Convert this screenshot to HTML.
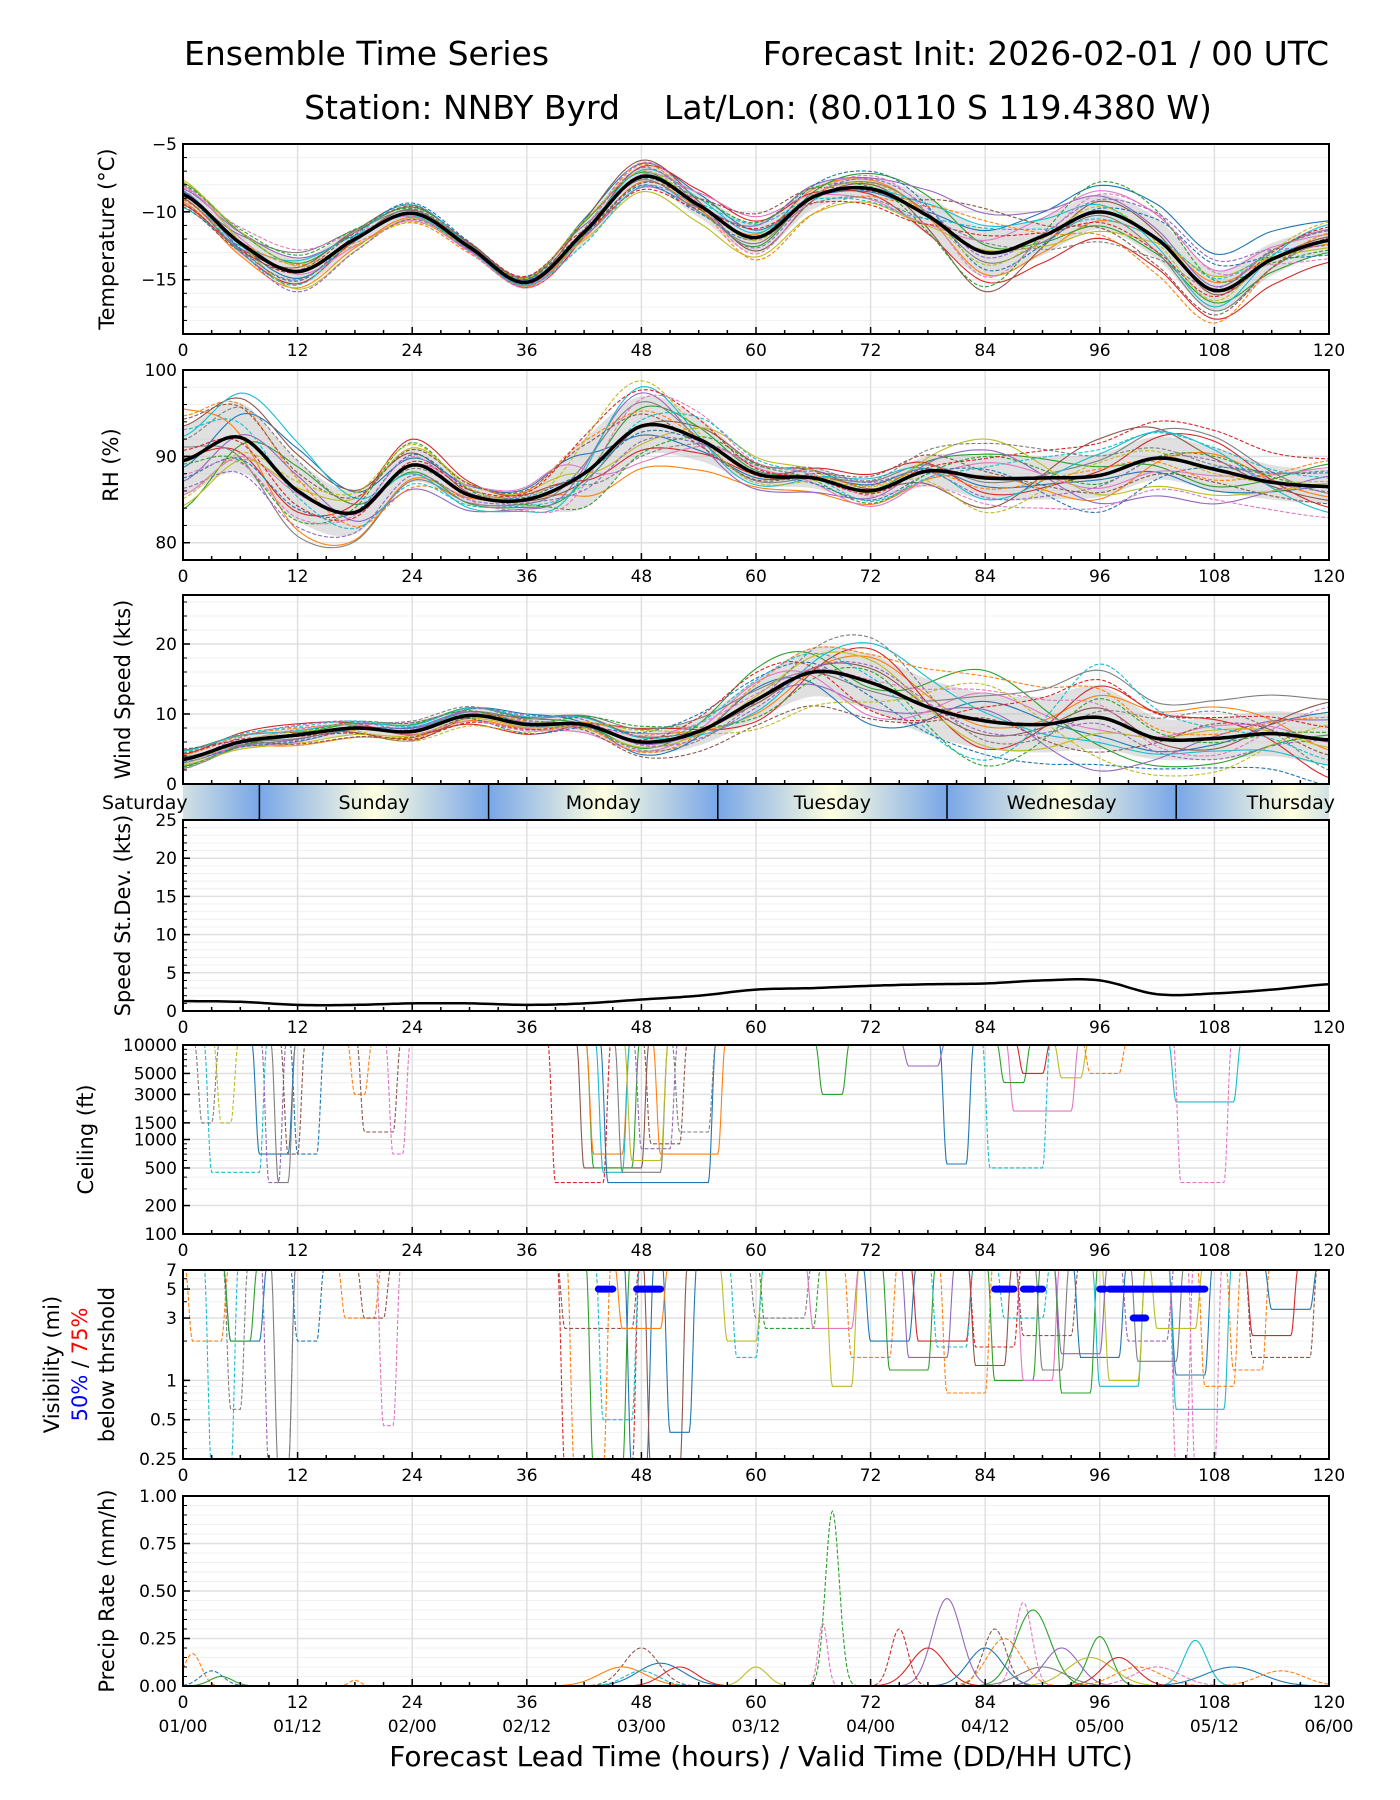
<!DOCTYPE html>
<html><head><meta charset="utf-8">
<style>
html,body{margin:0;padding:0;background:#fff;}
svg{display:block;font-family:"DejaVu Sans","Liberation Sans",sans-serif;}
</style></head>
<body>
<svg id="chart" width="1400" height="1800" viewBox="0 0 1400 1800" xmlns="http://www.w3.org/2000/svg">
<rect width="1400" height="1800" fill="#fff"/>
<text x="184" y="65" font-size="33">Ensemble Time Series</text>
<text x="1329" y="65" font-size="33" text-anchor="end">Forecast Init: 2026-02-01 / 00 UTC</text>
<text x="620" y="119" font-size="33" text-anchor="end">Station: NNBY Byrd</text>
<text x="664" y="119" font-size="33">Lat/Lon: (80.0110 S 119.4380 W)</text>
<g id="layer"></g>
</svg>
<script>
// ---------- DATA ----------
const hours6=[0,6,12,18,24,30,36,42,48,54,60,66,72,78,84,90,96,102,108,114,120];
const tempMean=[-8.7,-12.3,-14.4,-12.0,-10.1,-12.6,-15.2,-11.5,-7.4,-9.5,-11.9,-8.9,-8.3,-10.3,-13.0,-11.8,-10.0,-12.0,-15.8,-13.5,-12.1];
const tempSpread=[0.7,0.9,1.0,0.7,0.5,0.3,0.3,0.9,0.8,0.9,1.1,0.9,0.8,1.4,1.8,1.4,1.3,1.5,1.5,1.2,0.9];
const rhMean=[89.5,92.2,86.0,83.5,89.0,85.5,85.0,88.0,93.5,92.0,88.0,87.5,86.0,88.3,87.5,87.5,87.8,89.8,88.5,87.0,86.5];
const rhSpread=[4,4,3.5,2.5,2,1.2,1,4,3.5,2.5,1.2,1.2,1.2,1.8,2.5,2.5,2.5,2.5,2.5,2,2];
const windMean=[3.5,6,7,8,7.5,9.8,8.5,8.5,6,7.5,12,16,14.5,11,9,8.5,9.5,6.5,6.5,7.2,6.3];
const windSpread=[1,1,1,1,1,1,1,1.2,1.5,2,2.8,3.5,4,4,4,4,4.5,3,3,3.2,3.6];
const sdValues=[1.3,1.2,0.8,0.8,1.0,1.0,0.8,1.0,1.5,2.0,2.8,3.0,3.3,3.5,3.6,4.0,4.0,2.2,2.3,2.8,3.5];
const memberZ=[
[0.3,-0.5,0.2,0.8,1.2,0.5,-0.3,0.9,1.5,1.8,1.6],
[-0.8,-1.2,-0.6,-0.4,-0.5,0.2,0.8,-0.9,-0.5,0.4,-0.3],
[1.2,0.6,0.9,1.1,0.4,-0.6,1.4,0.3,-0.8,-0.6,-1.0],
[-0.4,-0.9,0.5,-1.3,0.9,1.1,-0.5,-1.2,-1.5,-1.4,-1.8],
[0.6,1.0,-0.2,0.5,-1.0,0.8,1.0,1.6,0.9,0.2,0.9],
[-1.1,0.3,1.2,0.2,1.5,-0.9,0.4,-1.6,0.6,-0.2,0.3],
[0.9,-0.2,-1.1,-0.7,0.2,1.4,-1.0,0.5,1.2,1.0,0.5],
[-0.2,1.4,0.4,1.3,-0.3,-0.4,0.6,-0.4,-0.2,-1.0,0.0],
[1.5,-1.3,-0.8,0.0,-1.4,-1.3,-1.3,0.1,-1.1,0.7,-0.6],
[-1.4,0.8,-0.4,-0.9,0.6,0.3,0.1,1.1,0.4,-0.8,1.3],
[0.1,-0.7,1.5,0.6,-0.8,-0.1,1.6,-0.7,0.2,1.3,-1.2],
[-0.6,0.5,-1.4,-1.1,1.1,-1.5,-0.7,1.3,-1.3,-1.6,0.6],
[1.0,1.2,0.7,-0.2,0.0,1.0,0.2,-1.4,1.7,0.5,-0.8],
[-1.0,-0.1,0.0,1.5,-1.2,0.6,-1.5,0.7,-0.6,-0.3,1.1],
[0.4,-1.5,-0.9,-0.5,0.8,-0.7,0.9,-0.2,0.7,1.5,-0.4],
[-1.3,0.1,1.0,0.9,-0.6,1.6,-0.2,1.8,-0.9,-1.2,0.2],
[0.7,1.6,-0.5,-1.4,1.3,-1.1,1.2,-1.0,1.0,0.9,-1.5],
[-0.5,-0.6,0.6,0.3,-0.2,0.0,-0.9,0.4,-1.7,0.1,0.8],
[1.3,0.4,-1.3,1.0,0.5,-0.2,0.5,-0.5,0.3,-0.5,1.5],
[-0.1,-1.0,1.3,-0.6,-0.9,0.9,-1.2,1.0,-0.4,0.6,-0.1]];
// ceiling events: [color, start h, end h, ft, dashed]
const ceilEvents=[[9,3,8,450,1],[7,2,3,1500,1],[8,4,5,1500,1],[0,8,11,700,0],[4,9,10,350,1],[7,10,11,350,0],[5,11,12,700,1],[0,12,14,700,1],[1,18,19,3000,1],[5,19,22,1200,1],[6,22,23,700,1],[3,39,44,350,1],[5,42,48,500,0],[2,43,47,500,0],[1,43,46,700,0],[9,44,46,450,0],[0,44.5,55,350,0],[7,46,50,450,0],[8,47,50,600,0],[4,48,51,800,1],[5,49,52,900,1],[1,50,56,700,0],[7,52,55,1200,1],[2,67,69,3000,0],[0,80,82,550,0],[9,84.5,90,500,1],[6,87,93,2000,0],[9,104,110,2500,0],[6,104.5,109,350,1],[2,86,88,4000,0],[3,88,90,5000,0],[8,92,94,4500,0],[4,76,79,6000,0],[1,95,98,5000,1]];
// visibility events: [color, start, end, miles, dashed]
const visEvents=[[9,3,5,0.2,1],[7,5,6,0.6,1],[1,1,4,2,1],[0,5,8,2,0],[2,5,7,2,0],[4,9,11,0.2,1],[7,10,11,0.2,0],[0,12,14,2,1],[1,17,20,3,1],[5,19,21,3,1],[6,21,22,0.45,1],[3,40,47,0.2,1],[1,41,44,0.2,1],[2,43,46,0.2,0],[9,44,47,0.5,1],[0,47,48.5,0.2,0],[5,49,52,0.2,0],[0,51,53,0.4,0],[5,40,47,2.5,1],[1,46,50,2.5,0],[8,57,60,2,0],[9,58,60,1.5,1],[2,61,66,2.5,1],[8,68,70,0.9,0],[1,70,74,1.5,1],[2,74,78,1.2,0],[3,77,82,2,0],[4,76,80,1.5,0],[9,79,82,1.8,1],[1,80,84,0.8,1],[5,83,86,1.3,0],[2,85,89,1,0],[6,88,91,1,0],[7,90,92,1.2,0],[2,92,95,0.8,0],[0,94,98,1.5,0],[9,96,100,0.9,0],[4,99,103,2,1],[8,97,100,1,0],[0,104,107,1.1,0],[9,104,109,0.6,0],[1,107,110,0.9,1],[6,104,105,0.2,1],[6,106,108,0.2,1],[1,110,113,1.2,1],[0,114,118,3.5,0],[3,112,116,2.2,0],[7,60,65,3,1],[6,66,70,2.5,0],[0,72,76,2,0],[5,88,93,2.2,1],[3,83,87,1.8,1],[4,92,96,1.6,0],[7,100,104,1.4,0],[8,102,106,2.5,0],[5,112,118,1.5,1],[9,86,90,3,1]];
const vis50=[[43.5,45],[47.5,50],[85,87],[88,89],[89.5,90],[96,96.5],[97,107]];
const vis75=[[99.5,100.8]];
// precip events: [color, center h, half width h, peak mm/h, dashed]
const precEvents=[[1,1,1.5,0.17,1],[2,4,2,0.05,0],[0,3,2,0.08,1],[2,68,1.2,0.92,1],[6,67,0.8,0.33,1],[4,80,2.5,0.46,0],[6,88,1.5,0.44,1],[2,89,3,0.4,0],[3,75,1.5,0.3,1],[5,85,2,0.3,1],[2,96,2,0.26,0],[9,106,2,0.24,0],[5,48,3,0.2,1],[1,46,4,0.1,0],[0,50,4,0.12,0],[3,52,3,0.1,0],[9,48,3,0.08,1],[3,78,3,0.2,0],[1,86,3,0.25,1],[0,84,3,0.2,0],[4,92,3,0.2,0],[8,95,4,0.15,0],[1,100,4,0.1,1],[0,110,5,0.1,0],[3,98,3,0.15,0],[6,102,4,0.1,1],[7,90,4,0.1,0],[1,115,4,0.08,1],[8,60,2,0.1,0],[1,18,1,0.03,1]];
const xTicks=[0,12,24,36,48,60,72,84,96,108,120];
const dateLabels=["01/00","01/12","02/00","02/12","03/00","03/12","04/00","04/12","05/00","05/12","06/00"];
const dayNames=["Saturday","Sunday","Monday","Tuesday","Wednesday","Thursday"];
const dayStarts=[-16,8,32,56,80,104];

// ---------- HELPERS ----------
const C=['#1f77b4','#ff7f0e','#2ca02c','#d62728','#9467bd','#8c564b','#e377c2','#7f7f7f','#bcbd22','#17becf'];
const NS='http://www.w3.org/2000/svg';
const layer=document.getElementById('layer');
const X0=183,X1=1329;
const TF=17, YF=21;
const xs=h=>X0+h/120*(X1-X0);
function mk(tag,attrs,parent){const e=document.createElementNS(NS,tag);for(const k in attrs)e.setAttribute(k,attrs[k]);(parent||layer).appendChild(e);return e;}
function cr(arr,step,h){const n=arr.length;let i=Math.floor(h/step);if(i>=n-1)i=n-2;const t=h/step-i;
 const p0=arr[Math.max(i-1,0)],p1=arr[i],p2=arr[i+1],p3=arr[Math.min(i+2,n-1)];
 return 0.5*((2*p1)+(-p0+p2)*t+(2*p0-5*p1+4*p2-p3)*t*t+(-p0+3*p1-3*p2+p3)*t*t*t);}
function linY(top,bot,min,max){return v=>top+(max-v)/(max-min)*(bot-top);}
function logY(top,bot,min,max){const a=Math.log10(min),b=Math.log10(max);return v=>top+(b-Math.log10(v))/(b-a)*(bot-top);}
let clipId=0;
function panel(name,top,bot,y,majors,labels,minors,ylabel,ylx,noX){
 const g=mk('g',{});
 
 
 minors.forEach(v=>mk('line',{x1:X0,x2:X1,y1:y(v),y2:y(v),stroke:'#f0f0f0','stroke-width':1},g));
 majors.forEach(v=>mk('line',{x1:X0,x2:X1,y1:y(v),y2:y(v),stroke:'#e0e0e0','stroke-width':1.5},g));
 xTicks.forEach(h=>mk('line',{x1:xs(h),x2:xs(h),y1:top,y2:bot,stroke:'#e0e0e0','stroke-width':1.5},g));
 clipId++;
 const cp=mk('clipPath',{id:'cp'+clipId},g);mk('rect',{x:X0,y:top,width:X1-X0,height:bot-top},cp);
 const data=mk('g',{'clip-path':'url(#cp'+clipId+')'},g);
 
 
 const ax=mk('g',{},g);
 
 
 for(let h=0;h<=120;h+=3){const L=h%12===0?7:4;mk('line',{x1:xs(h),x2:xs(h),y1:bot,y2:bot-L,stroke:'#000','stroke-width':1.5},ax);}
 majors.forEach(v=>mk('line',{x1:X0,x2:X0+7,y1:y(v),y2:y(v),stroke:'#000','stroke-width':1.5},ax));
 minors.forEach(v=>mk('line',{x1:X0,x2:X0+4,y1:y(v),y2:y(v),stroke:'#000','stroke-width':1},ax));
 majors.forEach((v,i)=>{const t=mk('text',{x:X0-6,y:y(v)+6,'font-size':TF,'text-anchor':'end'},ax);t.textContent=labels[i];});
 if(!noX)xTicks.forEach(h=>{const t=mk('text',{x:xs(h),y:bot+22,'font-size':TF,'text-anchor':'middle'},ax);t.textContent=h;});
 if(ylabel){const cy=(top+bot)/2;const t=mk('text',{x:ylx,y:cy,'font-size':YF,'text-anchor':'middle',transform:`rotate(-90 ${ylx} ${cy})`},ax);t.textContent=ylabel;
  
  }
 return {g,data,ax,top,bot,y};
}
function frame(p){mk('rect',{x:X0,y:p.top,width:X1-X0,height:p.bot-p.top,fill:'none',stroke:'#000','stroke-width':2},p.g);}
function pathFrom(pts){return 'M'+pts.map(p=>p[0].toFixed(1)+','+p[1].toFixed(1)).join('L');}
function ensemble(p,mean,spread,offset){
 const band=[],lo=[];
 for(let h=0;h<=120;h+=0.5){const m=cr(mean,6,h),s=cr(spread,6,h);band.push([xs(h),p.y(m+s)]);lo.push([xs(h),p.y(m-s)]);}
 const bp=mk('path',{d:pathFrom(band.concat(lo.reverse()))+'Z',fill:'#bbbbbb','fill-opacity':0.45,stroke:'none'},p.data);
 
 
 for(let k=0;k<20;k++){
  const z=memberZ[(k+offset)%20];const pts=[];
  for(let h=0;h<=120;h+=0.5){pts.push([xs(h),p.y(cr(mean,6,h)+cr(z,12,h)*cr(spread,6,h))]);}
  const e=mk('path',{d:pathFrom(pts),fill:'none',stroke:C[k%10],'stroke-width':1.1},p.data);
  if(k>=10)e.setAttribute('stroke-dasharray','4,2');
  
  
 }
 const pts=[];for(let h=0;h<=120;h+=0.5)pts.push([xs(h),p.y(cr(mean,6,h))]);
 const ml=mk('path',{d:pathFrom(pts),fill:'none',stroke:'#000','stroke-width':3.5},p.data);
 
 
}
function range(a,b,s){const r=[];for(let v=a;v<=b+1e-9;v+=s)r.push(+v.toFixed(4));return r;}
function eventLines(p,events,topVal,mode){
 events.forEach(ev=>{
  const [c,s,e,v,d]=ev;const pts=[];const ramp=0.8;
  for(let h=s-ramp-0.5;h<=e+ramp+0.5;h+=0.1){
   let f;if(h<s-ramp||h>e+ramp)f=0;else if(h<s)f=0.5-0.5*Math.cos(Math.PI*(h-s+ramp)/ramp);else if(h>e)f=0.5+0.5*Math.cos(Math.PI*(h-e)/ramp);else f=1;
   const lv=Math.log10(topVal)+f*(Math.log10(v)-Math.log10(topVal));
   pts.push([xs(h),p.y(Math.pow(10,lv))]);
  }
  const el=mk('path',{d:pathFrom(pts),fill:'none',stroke:C[c],'stroke-width':1.1},p.data);
  if(d)el.setAttribute('stroke-dasharray','4,2');
  
  
 });
}

// ---------- TEMPERATURE ----------
const pT=panel('temperature',144,334,linY(144,334,-19,-5),[-5,-10,-15],['−5','−10','−15'],range(-19,-5,1),'Temperature (°C)',114);
ensemble(pT,tempMean,tempSpread,0);frame(pT);
// ---------- RH ----------
const pR=panel('rh',370,560,linY(370,560,78,100),[100,90,80],['100','90','80'],range(78,100,2),'RH (%)',118);
ensemble(pR,rhMean,rhSpread,7);frame(pR);
// ---------- WIND ----------
const pW=panel('wind',595,784,linY(595,784,0,27),[0,10,20],['0','10','20'],range(0,27,2),'Wind Speed (kts)',130,true);
ensemble(pW,windMean,windSpread,13);frame(pW);
// ---------- DAY BAR ----------
{const g=mk('g',{});
 const defs=mk('defs',{},g);const lg=mk('linearGradient',{id:'dayg',x1:0,x2:1,y1:0,y2:0},defs);
 [['0','#78a6e8'],['0.5','#ffffe0'],['1','#78a6e8']].forEach(s=>mk('stop',{offset:s[0],'stop-color':s[1]},lg));
 const cp=mk('clipPath',{id:'daycp'},defs);mk('rect',{x:X0,y:785,width:X1-X0,height:35},cp);
 const inner=mk('g',{'clip-path':'url(#daycp)'},g);
 dayStarts.forEach(b=>{mk('rect',{x:xs(b),y:785,width:xs(b+24)-xs(b),height:35,fill:'url(#dayg)'},inner);
  if(b>0)mk('line',{x1:xs(b),x2:xs(b),y1:785,y2:820,stroke:'#000','stroke-width':1.5},g);});
 dayNames.forEach((n,i)=>{const t=mk('text',{x:xs(dayStarts[i]+12),y:809,'font-size':19,'text-anchor':'middle'},g);t.textContent=n;
  });
}
// ---------- SPEED STDDEV ----------
const pS=panel('speed-stddev',820,1011,linY(820,1011,0,25),[0,5,10,15,20,25],['0','5','10','15','20','25'],range(0,25,1),'Speed St.Dev. (kts)',130);
{const pts=[];for(let h=0;h<=120;h+=0.5)pts.push([xs(h),pS.y(cr(sdValues,6,h))]);
 const l=mk('path',{d:pathFrom(pts),fill:'none',stroke:'#000','stroke-width':2.5},pS.data);
 }
frame(pS);
// ---------- CEILING ----------
const pC=panel('ceiling',1045,1234,logY(1045,1234,100,10000),[100,200,500,1000,1500,3000,5000,10000],['100','200','500','1000','1500','3000','5000','10000'],[300,400,600,700,800,900,2000,4000,6000,7000,8000,9000],'Ceiling (ft)',93);
eventLines(pC,ceilEvents,10500,'ceiling');frame(pC);
// ---------- VISIBILITY ----------
const pV=panel('visibility',1270,1459,logY(1270,1459,0.25,7),[0.25,0.5,1,3,5,7],['0.25','0.5','1','3','5','7'],[0.3,0.4,0.6,0.7,0.8,0.9,2,4,6],null,0);
eventLines(pV,visEvents,7.5,'visibility');
vis50.forEach(r=>{const l=mk('line',{x1:xs(r[0]),x2:xs(r[1]),y1:pV.y(5),y2:pV.y(5),stroke:'#0000ff','stroke-width':7,'stroke-linecap':'round'},pV.data);
 });
vis75.forEach(r=>{const l=mk('line',{x1:xs(r[0]),x2:xs(r[1]),y1:pV.y(3),y2:pV.y(3),stroke:'#0000ff','stroke-width':7,'stroke-linecap':'round'},pV.data);
 });
frame(pV);
{const cy=(1270+1459)/2;
 const t1=mk('text',{x:59,y:cy,'font-size':YF,'text-anchor':'middle',transform:`rotate(-90 59 ${cy})`});t1.textContent='Visibility (mi)';
 
 const t2=mk('text',{x:87,y:cy,'font-size':YF,'text-anchor':'middle',transform:`rotate(-90 87 ${cy})`});
 const s1=mk('tspan',{fill:'#0000ff'},t2);s1.textContent='50%';const s2=mk('tspan',{},t2);s2.textContent=' / ';const s3=mk('tspan',{fill:'#ff0000'},t2);s3.textContent='75%';
 
 const t3=mk('text',{x:114,y:cy,'font-size':YF,'text-anchor':'middle',transform:`rotate(-90 114 ${cy})`});t3.textContent='below thrshold';
 }
// ---------- PRECIP ----------
const pP=panel('precip',1496,1686,linY(1496,1686,0,1),[0,0.25,0.5,0.75,1],['0.00','0.25','0.50','0.75','1.00'],range(0,1,0.05),'Precip Rate (mm/h)',114);
precEvents.forEach(ev=>{const [c,m,w,pk,d]=ev;const pts=[];
 for(let h=Math.max(0,m-3*w);h<=Math.min(120,m+3*w);h+=0.1)pts.push([xs(h),pP.y(pk*Math.exp(-0.5*Math.pow((h-m)/(w*0.6),2)))]);
 const el=mk('path',{d:pathFrom(pts),fill:'none',stroke:C[c],'stroke-width':1.1},pP.data);
 if(d)el.setAttribute('stroke-dasharray','4,2');
 });
frame(pP);
xTicks.forEach((h,i)=>{const t=mk('text',{x:xs(h),y:1732,'font-size':TF,'text-anchor':'middle'});t.textContent=dateLabels[i];
 });
{const t=mk('text',{x:761,y:1766,'font-size':28,'text-anchor':'middle'});t.textContent='Forecast Lead Time (hours) / Valid Time (DD/HH UTC)';
 }
</script>
</body></html>
